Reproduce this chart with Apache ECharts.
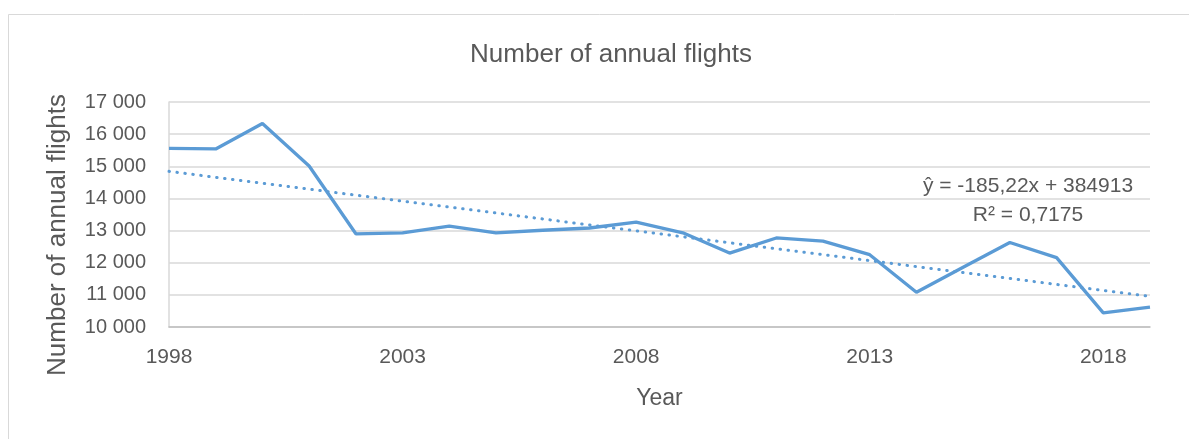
<!DOCTYPE html>
<html>
<head>
<meta charset="utf-8">
<script src="https://cdn.jsdelivr.net/npm/echarts@6/dist/echarts.min.js"></script>
<style>html,body{margin:0;padding:0;background:#fff;}#c{width:1189px;height:439px;}</style>
</head>
<body>
<div id="c"></div>
<script>
const years = ['1998','1999','2000','2001','2002','2003','2004','2005','2006','2007','2008','2009','2010','2011','2012','2013','2014','2015','2016','2017','2018','2019'];
const flights = [15560,15540,16330,15010,12900,12930,13140,12930,13010,13080,13260,12930,12300,12770,12670,12250,11080,11860,12630,12160,10440,10620];
const trendYears = ['1998','2019'];
const trendValues = [14843,10954];
const yTicks = {min:10000, max:17000, interval:1000};
const titleText = 'Number of annual flights';
const yName = 'Number of annual flights';
const xName = 'Year';
const eqLine1 = 'ŷ = -185,22x + 384913';
const eqLine2 = 'R² = 0,7175';

const font = 'Liberation Sans, Arial, sans-serif';
const grey = '#595959';
const chart = echarts.init(document.getElementById('c'));
chart.setOption({
  animation:false,
  backgroundColor:'#fff',
  title:{text:titleText,left:606,textAlign:'center',top:37,textStyle:{fontFamily:font,fontSize:26,fontWeight:'normal',color:grey}},
  grid:{left:169,right:39,top:102,bottom:112},
  xAxis:{type:'category',data:years,boundaryGap:false,
    name:xName,nameLocation:'middle',nameGap:60,nameTextStyle:{fontFamily:font,fontSize:23,color:grey},
    axisLine:{lineStyle:{color:'#bfbfbf',width:1.5}},axisTick:{show:false},
    axisLabel:{interval:4,color:grey,fontFamily:font,fontSize:21,margin:20},
    splitLine:{show:false}},
  yAxis:{type:'value',min:yTicks.min,max:yTicks.max,interval:yTicks.interval,
    axisLine:{show:true,lineStyle:{color:'#d9d9d9',width:1.5}},axisTick:{show:false},
    axisLabel:{color:grey,fontFamily:font,fontSize:20,margin:23,
      formatter:v=>String(v).replace(/\B(?=(\d{3})+(?!\d))/g,' ')},
    splitLine:{lineStyle:{color:'#d9d9d9',width:1.5}}},
  series:[
    {type:'line',data:flights,symbol:'none',lineStyle:{color:'#5b9bd5',width:3.3},itemStyle:{color:'#5b9bd5'},z:3},
    {type:'line',data:trendYears.map((y,i)=>[y,trendValues[i]]),symbol:'none',
      lineStyle:{color:'#5b9bd5',width:3,type:[0.5,7.5],cap:'round'},z:2}
  ],
  graphic:[
    {type:'rect',shape:{x:8.5,y:14.5,width:1200,height:500},style:{fill:'none',stroke:'#d9d9d9',lineWidth:1},silent:true,z:-1},
    {type:'text',x:58,y:235,rotation:Math.PI/2,style:{text:yName,fontFamily:font,fontSize:26,fill:grey,textAlign:'center',textVerticalAlign:'middle'}},
    {type:'text',x:1028,y:186,style:{text:eqLine1,fontFamily:font,fontSize:21,fill:grey,textAlign:'center',textVerticalAlign:'middle'}},
    {type:'text',x:1028,y:215,style:{text:eqLine2,fontFamily:font,fontSize:21,fill:grey,textAlign:'center',textVerticalAlign:'middle'}}
  ]
});
</script>
</body>
</html>
